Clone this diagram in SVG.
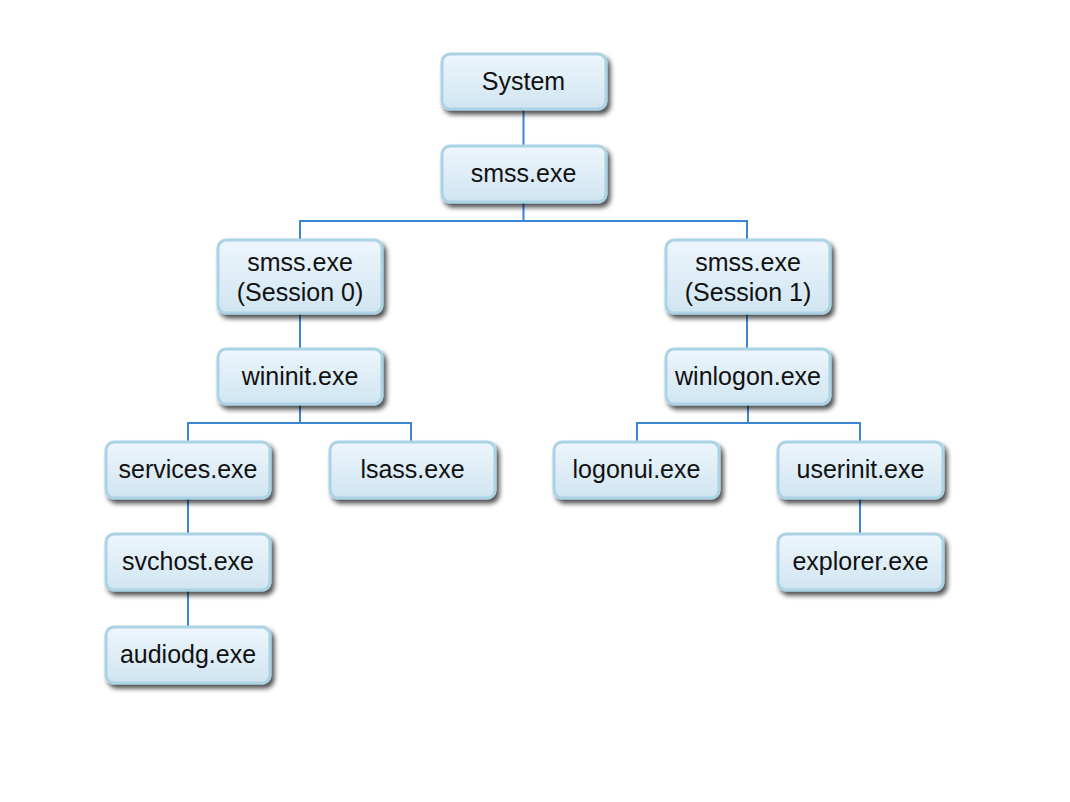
<svg xmlns="http://www.w3.org/2000/svg" width="1070" height="802" viewBox="0 0 1070 802">
<defs>
<linearGradient id="fill" x1="0" y1="0" x2="0" y2="1">
<stop offset="0" stop-color="#edf6fc"/>
<stop offset="1" stop-color="#d0e5f1"/>
</linearGradient>
<filter id="sh" x="-10%" y="-20%" width="130%" height="150%">
<feGaussianBlur in="SourceAlpha" stdDeviation="2.5"/>
<feOffset dx="3" dy="4" result="b"/>
<feComponentTransfer><feFuncA type="linear" slope="0.7"/></feComponentTransfer>
<feMerge><feMergeNode/><feMergeNode in="SourceGraphic"/></feMerge>
</filter>
</defs>
<style>
.box{fill:url(#fill);stroke:#acd2e6;stroke-width:3;filter:url(#sh)}
.t{font-family:"Liberation Sans",Arial,Helvetica,sans-serif;font-size:25px;fill:#111;text-anchor:middle}
.c{fill:none;stroke:#3d85d4;stroke-width:2}
</style>
<rect width="1070" height="802" fill="#fff"/>
<g id="connectors">
<path class="c" d="M523.5 109V145"/>
<path class="c" d="M523.5 202V221M300 239V221H747V239"/>
<path class="c" d="M300 313V349"/>
<path class="c" d="M747 313V349"/>
<path class="c" d="M300 404V423M188 441V423H411V441"/>
<path class="c" d="M748 404V423M637 441V423H860V441"/>
<path class="c" d="M188 498V534"/>
<path class="c" d="M188 590V627"/>
<path class="c" d="M860 498V534"/>
</g>
<g id="system"><rect class="box" x="442" y="54" width="164" height="55" rx="8"/><text class="t" x="523.5" y="90">System</text></g>
<g id="smss"><rect class="box" x="442" y="146" width="164" height="56" rx="8"/><text class="t" x="523.5" y="182">smss.exe</text></g>
<g id="smss0"><rect class="box" x="218" y="240" width="164" height="73" rx="8"/><text class="t" x="300" y="271">smss.exe</text><text class="t" x="300" y="301">(Session 0)</text></g>
<g id="smss1"><rect class="box" x="666" y="240" width="164" height="73" rx="8"/><text class="t" x="748" y="271">smss.exe</text><text class="t" x="748" y="301">(Session 1)</text></g>
<g id="wininit"><rect class="box" x="218" y="349" width="164" height="55" rx="8"/><text class="t" x="300" y="385">wininit.exe</text></g>
<g id="winlogon"><rect class="box" x="666" y="349" width="164" height="55" rx="8"/><text class="t" x="748" y="385">winlogon.exe</text></g>
<g id="services"><rect class="box" x="106" y="442" width="164" height="56" rx="8"/><text class="t" x="188" y="478">services.exe</text></g>
<g id="lsass"><rect class="box" x="330" y="442" width="165" height="56" rx="8"/><text class="t" x="412.5" y="478">lsass.exe</text></g>
<g id="logonui"><rect class="box" x="554" y="442" width="165" height="56" rx="8"/><text class="t" x="636.5" y="478">logonui.exe</text></g>
<g id="userinit"><rect class="box" x="778" y="442" width="165" height="56" rx="8"/><text class="t" x="860.5" y="478">userinit.exe</text></g>
<g id="svchost"><rect class="box" x="106" y="534" width="164" height="56" rx="8"/><text class="t" x="188" y="570">svchost.exe</text></g>
<g id="explorer"><rect class="box" x="778" y="534" width="165" height="56" rx="8"/><text class="t" x="860.5" y="570">explorer.exe</text></g>
<g id="audiodg"><rect class="box" x="106" y="627" width="164" height="56" rx="8"/><text class="t" x="188" y="663">audiodg.exe</text></g>
</svg>
